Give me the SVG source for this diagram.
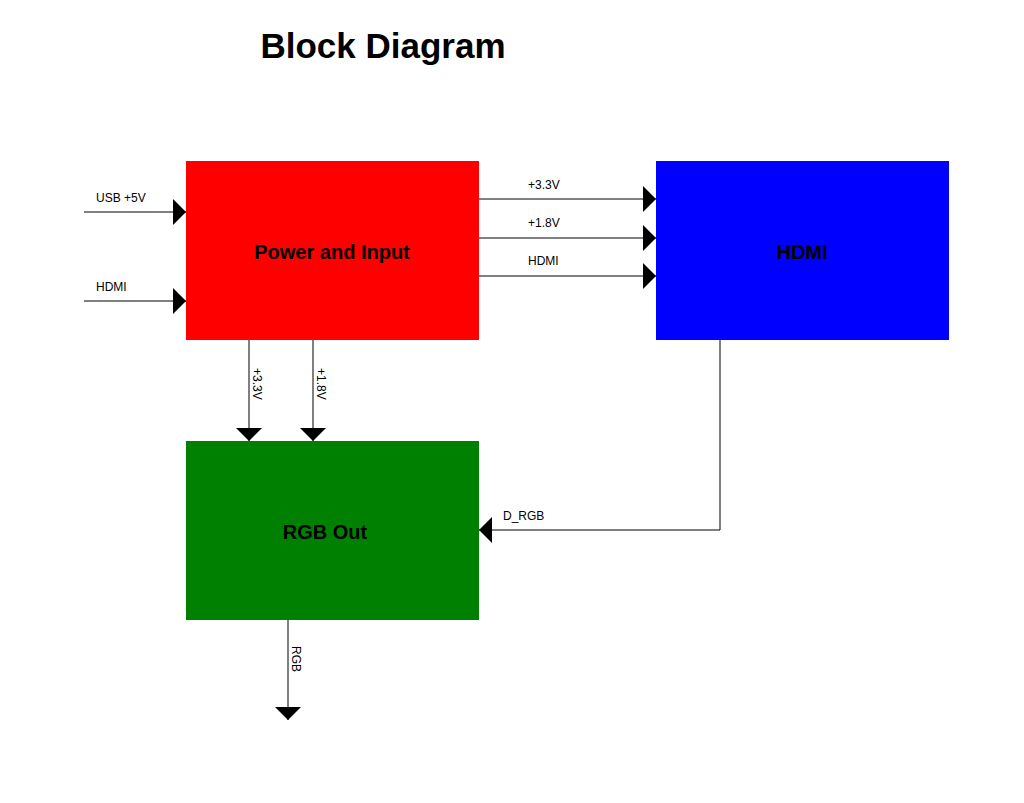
<svg xmlns="http://www.w3.org/2000/svg" width="1024" height="803" viewBox="0 0 1024 803">
<style>
.l{stroke:#000;stroke-width:1;fill:none}
.t{font-family:"Liberation Sans",Arial,sans-serif;font-size:12px;fill:#000}
.b{font-family:"Liberation Sans",Arial,sans-serif;font-size:20px;font-weight:bold;fill:#000;text-anchor:middle}
</style>
<defs>
<polygon id="ar" points="0,0 -13,-13 -13,13"/>
</defs>
<rect width="1024" height="803" fill="#fff"/>
<text x="383" y="58" font-family="Liberation Sans,Arial,sans-serif" font-size="35" font-weight="bold" text-anchor="middle">Block Diagram</text>
<g id="power"><rect x="186" y="161" width="293" height="179" fill="#f00"/><text class="b" x="332" y="259">Power and Input</text></g>
<g id="hdmi"><rect x="656" y="161" width="293" height="179" fill="#00f"/><text class="b" x="802" y="259">HDMI</text></g>
<g id="rgb"><rect x="186" y="441" width="293" height="179" fill="#008000"/><text class="b" x="325" y="539">RGB Out</text></g>
<g id="connectors">
<path class="l" d="M84 212H186M84 301H186M479 199H656M479 238H656M479 276H656M249 340V441M313 340V441M720 340V530H479M288 620V720"/>
<use href="#ar" x="186" y="212"/><use href="#ar" x="186" y="301"/>
<use href="#ar" x="656" y="199"/><use href="#ar" x="656" y="238"/><use href="#ar" x="656" y="276"/>
<use href="#ar" transform="translate(249,441) rotate(90)"/><use href="#ar" transform="translate(313,441) rotate(90)"/>
<use href="#ar" transform="translate(479,530) rotate(180)"/>
<use href="#ar" transform="translate(288,720) rotate(90)"/>
<text class="t" x="96" y="202">USB +5V</text>
<text class="t" x="96" y="291">HDMI</text>
<text class="t" x="528" y="189">+3.3V</text>
<text class="t" x="528" y="227">+1.8V</text>
<text class="t" x="528" y="265">HDMI</text>
<text class="t" x="503" y="520">D_RGB</text>
<text class="t" transform="translate(253,368) rotate(90)">+3.3V</text>
<text class="t" transform="translate(317,368) rotate(90)">+1.8V</text>
<text class="t" transform="translate(292,646) rotate(90)">RGB</text>
</g>
</svg>
